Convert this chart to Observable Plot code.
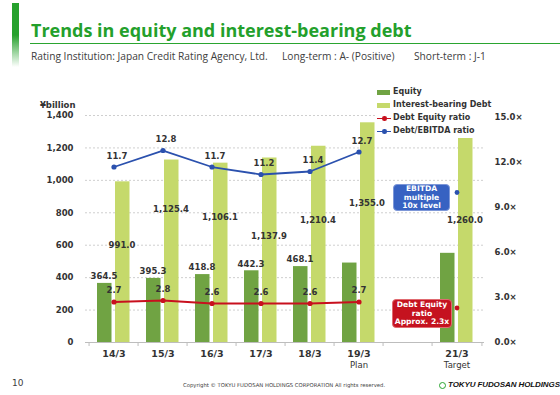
<!DOCTYPE html>
<html>
<head>
<meta charset="utf-8">
<script src="https://cdn.jsdelivr.net/npm/d3@7"></script>
<script src="https://cdn.jsdelivr.net/npm/@observablehq/plot@0.6"></script>
<style>
  html, body { margin: 0; padding: 0; background: #fff; }
  #page { position: relative; width: 560px; height: 395px; overflow: hidden; font-family: "DejaVu Sans", sans-serif; color: #404040; }
  .abs { position: absolute; white-space: nowrap; }
  #chart { position: absolute; left: 0; top: 80px; }
  .legend-item { position: absolute; left: 2px; height: 12px; font-size: 8px; font-weight: bold; color: #333; line-height: 12px; }
  .sw { position: absolute; left: 0; top: 4px; width: 13px; height: 5px; }
  .ln { position: absolute; left: 0; top: 5.5px; width: 14px; height: 1.5px; }
  .ld { position: absolute; left: 5px; top: 4px; width: 4.5px; height: 4.5px; border-radius: 50%; }
  .lt { position: absolute; left: 16px; top: 0; }
  .note { position: absolute; border-radius: 4px; color: #fff; font-weight: bold; font-size: 7.6px; line-height: 8.7px; text-align: center; box-sizing: border-box; white-space: nowrap; font-family: "DejaVu Sans", sans-serif; }
</style>
</head>
<body>
<div id="page">
  <div class="abs" style="left:12px;top:3px;width:7px;height:64px;background:linear-gradient(#26a12d 0%, #26a12d 50%, #ffffff 100%);"></div>
  <div class="abs" id="title" style="left:31px;top:17.5px;font-size:18px;font-weight:bold;color:#23a02b;font-family:'Open Sans',sans-serif;"></div>
  <div class="abs" style="left:30px;top:42.5px;width:530px;height:1.5px;background:#2aa530;"></div>
  <div class="abs sub" id="sub1" style="left:31px;top:49px;font-size:10.2px;font-family:'Open Sans',sans-serif;"></div>
  <div class="abs sub" id="sub2" style="left:282px;top:49px;font-size:10.2px;font-family:'Open Sans',sans-serif;"></div>
  <div class="abs sub" id="sub3" style="left:414px;top:49px;font-size:10.2px;font-family:'Open Sans',sans-serif;"></div>
  <div id="chart"></div>
  <div class="abs" id="legend" style="left:375px;top:85px;width:110px;height:53px;background:#fff;"></div>
  <div class="note" id="noteEbitda" style="left:393px;top:184px;width:57px;height:27px;padding-top:0px;background:#3762c2;border:1px solid #7d97d8;"></div>
  <div class="note" id="noteDer" style="left:392px;top:299px;width:60px;height:29px;padding-top:1px;background:#c5121f;border:1px solid #e06a70;"></div>
  <div class="abs" id="pageNo" style="left:12px;top:378px;font-size:9px;color:#404040;"></div>
  <div class="abs" id="copy" style="left:183px;top:381.5px;font-size:5.3px;color:#404040;"></div>
  <div class="abs" style="left:439px;top:382px;width:5px;height:5px;border-radius:50%;border:1.3px solid #2aa530;background:#fff;"></div>
  <div class="abs" id="logo" style="left:448px;top:379.5px;font-size:8px;font-weight:bold;font-style:italic;color:#111;font-family:'Liberation Sans',sans-serif;letter-spacing:-0.1px;"></div>
</div>
<script>
// ---- texts ----
const titleText = "Trends in equity and interest-bearing debt";
const subtitleParts = ["Rating Institution: Japan Credit Rating Agency, Ltd.", "Long-term : A- (Positive)", "Short-term : J-1"];
const unitLabel = "¥billion";
const legendLabels = ["Equity", "Interest-bearing Debt", "Debt Equity ratio", "Debt/EBITDA ratio"];
const noteEbitda = ["EBITDA", "multiple", "10x level"];
const noteDer = ["Debt Equity", "ratio", "Approx. 2.3x"];
const pageNumber = "10";
const copyrightText = "Copyright © TOKYU FUDOSAN HOLDINGS CORPORATION All rights reserved.";
const logoText = "TOKYU FUDOSAN HOLDINGS";

// ---- data ----
const categories = ["14/3", "15/3", "16/3", "17/3", "18/3", "19/3", "20/3", "21/3"];
const barCategories = ["14/3", "15/3", "16/3", "17/3", "18/3", "19/3", "21/3"];
const subLabels = {"19/3": "Plan", "21/3": "Target"};
const equity = [364.5, 395.3, 418.8, 442.3, 468.1, 490, 550];
const equityLabels = ["364.5", "395.3", "418.8", "442.3", "468.1", "", ""];
const debt = [991.0, 1125.4, 1106.1, 1137.9, 1210.4, 1355.0, 1260.0];
const debtLabelAt = [600, 824, 775, 655, 755, 860, 755]; // where the value label sits inside each bar (¥billion)
const lineCategories = ["14/3", "15/3", "16/3", "17/3", "18/3", "19/3"];
const deRatio = [2.7, 2.8, 2.6, 2.6, 2.6, 2.7];
const ebitdaRatio = [11.7, 12.8, 11.7, 11.2, 11.4, 12.7];
const targetCategory = "21/3";
const deTarget = 2.3;
const ebitdaTarget = 10.0;
const leftTicks = [0, 200, 400, 600, 800, 1000, 1200, 1400];
const gridTicks = [200, 400, 600, 800, 1000, 1200, 1400];
const rightTicks = [0, 3, 6, 9, 12, 15];

// colours
const cEquity = "#70a343", cDebt = "#c5d96b", cRed = "#c8101e", cBlue = "#2b51ae", cText = "#333333";

// right axis (×) mapped onto the ¥billion scale
const k = 92.5;

// ---- HTML texts ----
document.getElementById("title").textContent = titleText;
document.getElementById("sub1").textContent = subtitleParts[0];
document.getElementById("sub2").textContent = subtitleParts[1];
document.getElementById("sub3").textContent = subtitleParts[2];
document.getElementById("noteEbitda").innerHTML = noteEbitda.join("<br>");
document.getElementById("noteDer").innerHTML = noteDer.join("<br>");
document.getElementById("pageNo").textContent = pageNumber;
document.getElementById("copy").textContent = copyrightText;
document.getElementById("logo").textContent = logoText;

const legend = document.getElementById("legend");
const legendSpec = [
  {label: legendLabels[0], type: "bar", color: cEquity},
  {label: legendLabels[1], type: "bar", color: cDebt},
  {label: legendLabels[2], type: "line", color: cRed},
  {label: legendLabels[3], type: "line", color: cBlue}
];
legendSpec.forEach((s, i) => {
  const it = document.createElement("div");
  it.className = "legend-item";
  it.style.top = (1 + i * 13.1) + "px";
  it.style.width = "108px";
  if (s.type === "bar") {
    it.innerHTML = `<div class="sw" style="background:${s.color}"></div>`;
  } else {
    it.innerHTML = `<div class="ln" style="background:${s.color}"></div><div class="ld" style="background:${s.color}"></div>`;
  }
  const t = document.createElement("div");
  t.className = "lt";
  t.textContent = s.label;
  it.appendChild(t);
  legend.appendChild(it);
});

// ---- tables ----
const bars = barCategories.map((c, i) => ({cat: c, equity: equity[i], eqLabel: equityLabels[i], debt: debt[i], debtLabelAt: debtLabelAt[i]}));
const lines = lineCategories.map((c, i) => ({cat: c, de: deRatio[i], eb: ebitdaRatio[i]}));
const targets = [{cat: targetCategory, de: deTarget, eb: ebitdaTarget}];

const W = 560, H = 295, mL = 85, mR = 76, mT = 35, mB = 33;
const step = (W - mL - mR) / categories.length;
const font = "DejaVu Sans, sans-serif";

const chart = Plot.plot({
  width: W, height: H,
  marginLeft: mL, marginRight: mR, marginTop: mT, marginBottom: mB,
  x: {domain: categories, padding: 0, axis: null},
  y: {domain: [0, 1400], axis: null},
  style: {fontFamily: font, background: "transparent", overflow: "visible"},
  marks: [
    Plot.gridY(gridTicks, {stroke: "#cfcfcf", strokeOpacity: 1, strokeDasharray: "2,2"}),
    Plot.barY(bars, {x: "cat", y: "equity", fill: cEquity, insetLeft: 8, insetRight: 26.5}),
    Plot.barY(bars, {x: "cat", y: "debt", fill: cDebt, insetLeft: 26, insetRight: 8.5}),
    Plot.ruleY([0], {stroke: "#bdbdbd", strokeWidth: 1.2}),
    Plot.ruleX(categories, {x: d => d, y1: 0, y2: 0, dx: -step / 2, insetBottom: -4, stroke: "#bdbdbd"}),
    Plot.ruleX([categories[categories.length - 1]], {x: d => d, y1: 0, y2: 0, dx: step / 2, insetBottom: -4, stroke: "#bdbdbd"}),
    // x labels
    Plot.text(categories.filter(c => barCategories.includes(c)), {x: d => d, frameAnchor: "bottom", dy: 14.5, text: d => d, fontWeight: "bold", fontSize: 9.5, fill: cText}),
    Plot.text(Object.keys(subLabels), {x: d => d, frameAnchor: "bottom", dy: 25, text: d => subLabels[d], fontSize: 8.5, fill: cText}),
    // left axis
    Plot.text(leftTicks, {y: d => d, frameAnchor: "left", textAnchor: "end", dx: -12, text: d => d3.format(",")(d), fontWeight: "bold", fontSize: 8.5, fill: cText}),
    Plot.text([unitLabel], {frameAnchor: "top-left", textAnchor: "end", dx: -10, dy: -13.5, text: d => d, fontWeight: "bold", fontSize: 8.5, fill: cText}),
    // right axis
    Plot.text(rightTicks, {y: d => d * k, frameAnchor: "right", textAnchor: "start", dx: 10, text: d => d.toFixed(1) + "×", fontWeight: "bold", fontSize: 8.5, fill: cText}),
    // bar value labels
    Plot.text(bars.filter(d => d.eqLabel), {x: "cat", y: "equity", text: "eqLabel", dx: -10, dy: -7, fontWeight: "bold", fontSize: 8.5, fill: cText}),
    Plot.text(bars, {x: "cat", y: "debtLabelAt", text: d => d3.format(",.1f")(d.debt), dx: 8, fontWeight: "bold", fontSize: 8.5, fill: cText}),
    // Debt Equity ratio
    Plot.lineY(lines, {x: "cat", y: d => d.de * k, stroke: cRed, strokeWidth: 1.8}),
    Plot.dot(lines, {x: "cat", y: d => d.de * k, r: 2.6, fill: cRed}),
    Plot.dot(targets, {x: "cat", y: d => d.de * k, r: 2.4, fill: cRed}),
    Plot.text(lines, {x: "cat", y: d => d.de * k, text: d => d.de.toFixed(1), dy: -11.5, fontWeight: "bold", fontSize: 8.5, fill: cText}),
    // Debt/EBITDA ratio
    Plot.lineY(lines, {x: "cat", y: d => d.eb * k, stroke: cBlue, strokeWidth: 1.8}),
    Plot.dot(lines, {x: "cat", y: d => d.eb * k, r: 2.6, fill: cBlue}),
    Plot.dot(targets, {x: "cat", y: d => d.eb * k, r: 2.4, fill: cBlue}),
    Plot.text(lines, {x: "cat", y: d => d.eb * k, text: d => d.eb.toFixed(1), dx: 3, dy: -11, fontWeight: "bold", fontSize: 8.5, fill: cText})
  ]
});
document.getElementById("chart").appendChild(chart);
</script>
</body>
</html>
